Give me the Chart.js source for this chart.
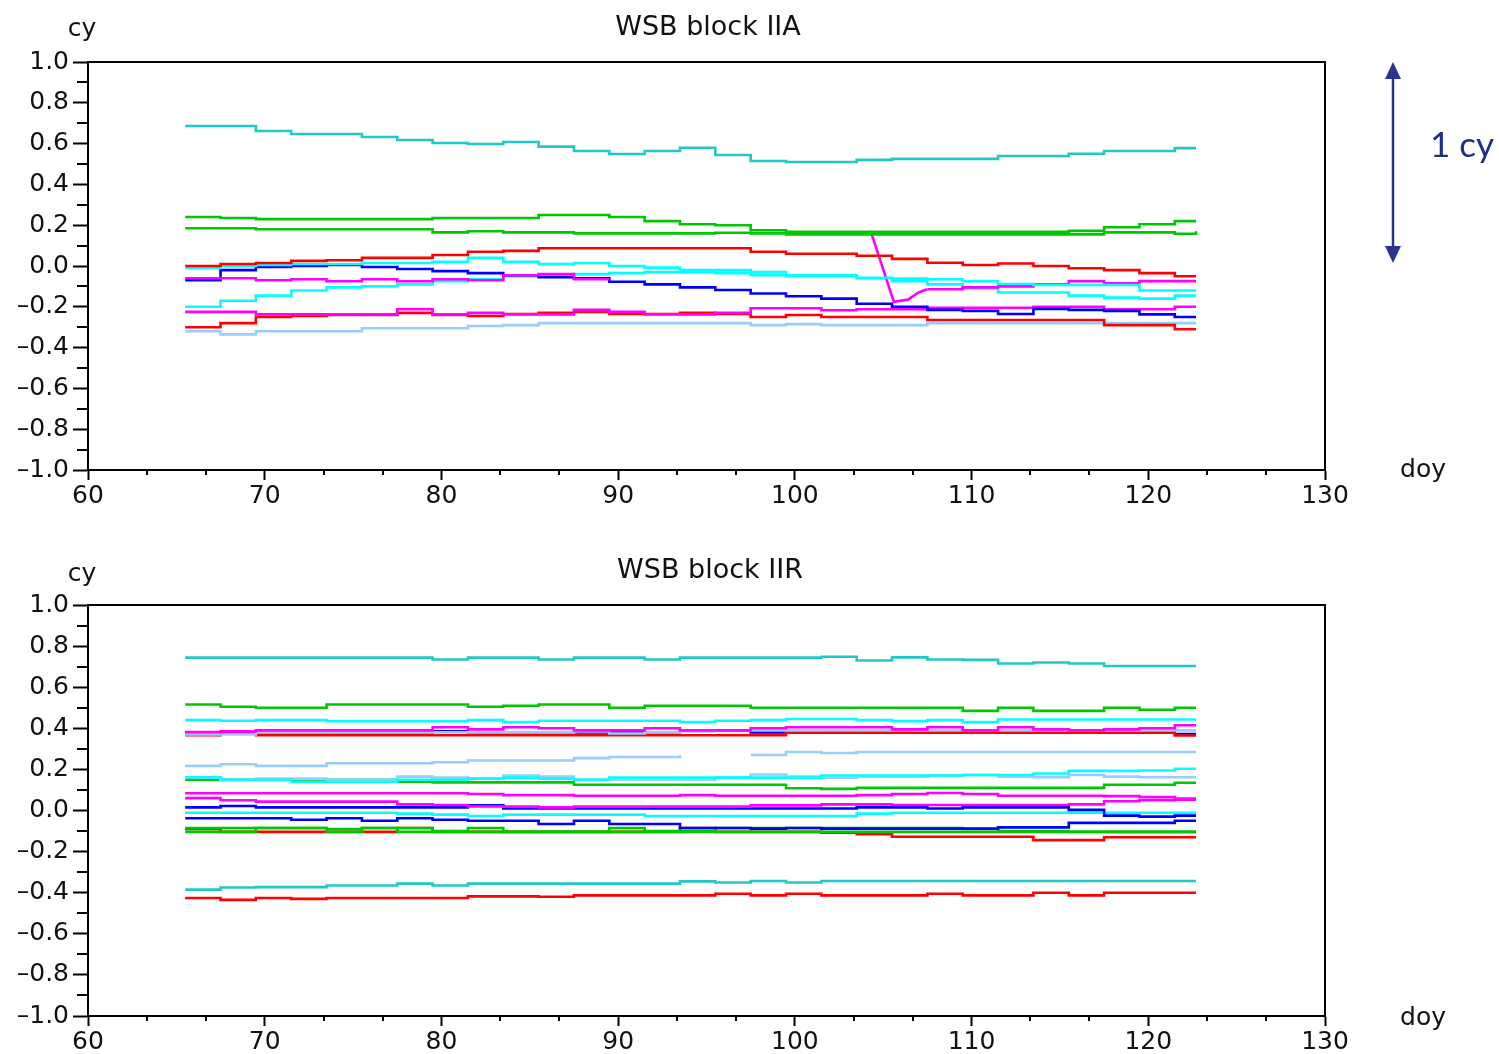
<!DOCTYPE html>
<html><head><meta charset="utf-8">
<script src="https://cdn.jsdelivr.net/npm/chart.js@4.4.0/dist/chart.umd.min.js"></script>
<style>
html,body{margin:0;padding:0;background:#fff;}
#wrap{position:relative;width:1499px;height:1054px;overflow:hidden;}
canvas{position:absolute;left:0;}
</style></head><body>
<div id="wrap">
<canvas id="cTop" width="1499" height="527" style="top:0"></canvas>
<canvas id="cBot" width="1499" height="527" style="top:527px"></canvas>
</div>
<script>
// ---- shared axis data ----
const days = [65.5,67.5,69.5,71.5,73.5,75.5,77.5,79.5,81.5,83.5,85.5,87.5,89.5,91.5,93.5,95.5,97.5,99.5,101.5,103.5,105.5,107.5,109.5,111.5,113.5,115.5,117.5,119.5,121.5,122.7];
const xTicks = [60,70,80,90,100,110,120,130];
const xMinor = [63.33,66.67,73.33,76.67,83.33,86.67,93.33,96.67,103.33,106.67,113.33,116.67,123.33,126.67];
const yTicks = [-1,-0.8,-0.6,-0.4,-0.2,0,0.2,0.4,0.6,0.8,1];
const yMinor = [-0.9,-0.7,-0.5,-0.3,-0.1,0.1,0.3,0.5,0.7,0.9];

// ---- WSB block IIA ----
const iiaT1 = [0.686,0.686,0.662,0.647,0.647,0.632,0.618,0.603,0.598,0.608,0.585,0.564,0.549,0.564,0.58,0.544,0.515,0.51,0.51,0.52,0.525,0.525,0.525,0.539,0.539,0.55,0.564,0.564,0.578,0.578];
const iiaG1 = [0.24,0.235,0.23,0.23,0.23,0.23,0.23,0.235,0.235,0.235,0.25,0.25,0.24,0.22,0.205,0.2,0.175,0.168,0.168,0.168,0.168,0.168,0.168,0.168,0.168,0.172,0.19,0.205,0.22,0.22];
const iiaG2 = [0.185,0.185,0.18,0.18,0.18,0.18,0.18,0.165,0.17,0.165,0.165,0.16,0.16,0.16,0.16,0.163,0.16,0.155,0.155,0.155,0.155,0.155,0.155,0.155,0.155,0.155,0.165,0.165,0.158,0.17];
const iiaR1 = [0.0,0.01,0.015,0.025,0.028,0.04,0.04,0.054,0.07,0.074,0.087,0.087,0.087,0.087,0.087,0.087,0.07,0.06,0.06,0.05,0.035,0.016,0.005,0.012,0.0,-0.011,-0.02,-0.035,-0.05,-0.05];
const iiaC1 = [-0.01,0.0,0.005,0.01,0.01,0.015,0.015,0.02,0.04,0.02,0.01,0.015,0.0,-0.008,-0.02,-0.02,-0.03,-0.045,-0.045,-0.058,-0.062,-0.065,-0.075,-0.088,-0.093,-0.093,-0.093,-0.12,-0.12,-0.12];
const iiaC2 = [-0.2,-0.17,-0.145,-0.12,-0.105,-0.1,-0.09,-0.075,-0.065,-0.05,-0.045,-0.04,-0.035,-0.03,-0.03,-0.035,-0.045,-0.05,-0.05,-0.06,-0.074,-0.09,-0.11,-0.13,-0.13,-0.145,-0.155,-0.16,-0.145,-0.145];
const iiaB1 = [-0.07,-0.02,-0.005,0.0,0.005,-0.005,-0.015,-0.025,-0.035,-0.045,-0.055,-0.06,-0.077,-0.09,-0.105,-0.118,-0.135,-0.148,-0.16,-0.185,-0.2,-0.215,-0.22,-0.235,-0.21,-0.215,-0.22,-0.237,-0.25,-0.25];
const iiaM1 = [-0.06,-0.06,-0.07,-0.065,-0.075,-0.065,-0.075,-0.065,-0.07,-0.045,-0.04,-0.065,-0.065,null,null,null,null,null,null,null,null,-0.114,-0.105,-0.1,-0.09,-0.074,-0.085,-0.074,-0.074,-0.074];
const iiaSpikeDays = [104.35,105.6,106.4,107.0,107.5];
const iiaSpikeVals = [0.155,-0.175,-0.165,-0.13,-0.114];
const iiaM2 = [-0.225,-0.225,-0.237,-0.237,-0.237,-0.237,-0.212,-0.237,-0.23,-0.237,-0.237,-0.215,-0.225,-0.237,-0.237,-0.23,-0.207,-0.207,-0.217,-0.212,-0.212,-0.205,-0.205,-0.205,-0.2,-0.2,-0.212,-0.212,-0.2,-0.2];
const iiaR2 = [-0.3,-0.28,-0.25,-0.245,-0.24,-0.24,-0.23,-0.24,-0.245,-0.235,-0.23,-0.225,-0.235,-0.235,-0.23,-0.235,-0.25,-0.24,-0.25,-0.25,-0.25,-0.265,-0.265,-0.265,-0.265,-0.265,-0.29,-0.29,-0.31,-0.31];
const iiaLB = [-0.32,-0.335,-0.32,-0.32,-0.32,-0.305,-0.305,-0.305,-0.294,-0.29,-0.28,-0.28,-0.28,-0.28,-0.28,-0.28,-0.29,-0.285,-0.29,-0.29,-0.29,-0.28,-0.28,-0.28,-0.28,-0.28,-0.28,-0.28,-0.28,-0.28];

// ---- WSB block IIR ----
const iirD1 = [0.744,0.744,0.744,0.744,0.744,0.744,0.744,0.735,0.744,0.744,0.735,0.744,0.744,0.735,0.744,0.744,0.744,0.744,0.748,0.73,0.745,0.735,0.733,0.715,0.72,0.715,0.703,0.703,0.703,0.703];
const iirE1 = [0.516,0.505,0.5,0.5,0.516,0.516,0.516,0.516,0.505,0.51,0.516,0.516,0.5,0.51,0.51,0.51,0.5,0.5,0.5,0.5,0.5,0.5,0.485,0.5,0.485,0.485,0.5,0.49,0.5,0.5];
const iirF1 = [0.44,0.437,0.44,0.44,0.434,0.434,0.434,0.434,0.44,0.43,0.437,0.437,0.437,0.437,0.43,0.437,0.44,0.445,0.445,0.44,0.435,0.44,0.43,0.443,0.443,0.443,0.443,0.443,0.443,0.443];
const iirH1 = [0.382,0.385,0.39,0.39,0.39,0.39,0.39,0.405,0.395,0.405,0.4,0.39,0.39,0.4,0.39,0.39,0.4,0.405,0.405,0.405,0.395,0.405,0.39,0.405,0.395,0.39,0.395,0.4,0.415,0.415];
const iirH2 = [0.37,0.37,0.38,0.38,0.38,0.38,0.38,0.38,0.38,0.38,0.38,0.385,0.375,0.38,0.385,0.39,0.39,0.39,0.39,0.39,0.39,0.39,0.39,0.39,0.39,0.39,0.39,0.39,0.39,0.39];
const iirH3 = [0.366,0.38,0.366,0.366,0.366,0.366,0.366,0.366,0.366,0.366,0.366,0.366,0.366,0.366,0.366,0.366,0.366,0.378,0.378,0.378,0.378,0.378,0.378,0.378,0.378,0.378,0.378,0.378,0.365,0.365];
const iirH4 = [0.38,0.38,0.38,0.38,0.38,0.38,0.38,0.385,0.38,0.38,0.38,0.38,0.38,0.38,0.39,0.39,0.38,0.39,0.38,0.38,0.38,0.38,0.38,0.385,0.385,0.38,0.385,0.38,0.372,0.372];
const iirL2 = [0.217,0.225,0.217,0.217,0.23,0.23,0.23,0.235,0.243,0.243,0.243,0.255,0.26,0.26,0.27,null,0.27,0.285,0.28,0.285,0.285,0.285,0.285,0.285,0.285,0.285,0.285,0.285,0.285,0.285];
const iirF2 = [0.162,0.15,0.15,0.14,0.14,0.14,0.15,0.15,0.155,0.16,0.155,0.15,0.16,0.16,0.16,0.16,0.16,0.16,0.17,0.17,0.17,0.17,0.173,0.173,0.18,0.193,0.193,0.195,0.203,0.203];
const iirL3 = [0.16,0.15,0.155,0.155,0.15,0.15,0.165,0.16,0.155,0.17,0.165,0.15,0.15,0.15,0.15,0.16,0.175,0.165,0.16,0.165,0.165,0.17,0.173,0.165,0.162,0.173,0.165,0.162,0.162,0.162];
const iirE2 = [0.15,0.15,0.15,0.15,0.149,0.149,0.14,0.137,0.137,0.137,0.137,0.125,0.125,0.125,0.125,0.125,0.125,0.108,0.105,0.11,0.11,0.11,0.11,0.11,0.11,0.11,0.125,0.125,0.135,0.135];
const iirN1 = [0.084,0.084,0.084,0.084,0.084,0.084,0.084,0.084,0.08,0.075,0.075,0.072,0.072,0.072,0.075,0.072,0.072,0.072,0.072,0.075,0.08,0.085,0.08,0.072,0.072,0.072,0.07,0.065,0.058,0.058];
const iirN2 = [0.06,0.05,0.043,0.043,0.043,0.043,0.03,0.027,0.02,0.019,0.015,0.019,0.019,0.019,0.019,0.019,0.025,0.025,0.03,0.03,0.027,0.027,0.027,0.027,0.027,0.03,0.045,0.05,0.052,0.052];
const iirP1 = [0.015,0.022,0.015,0.015,0.015,0.015,0.015,0.015,0.025,0.01,0.01,0.01,0.01,0.01,0.01,0.01,0.01,0.01,0.01,0.015,0.015,0.01,0.015,0.015,0.015,0.003,-0.025,-0.03,-0.025,-0.025];
const iirP2 = [-0.038,-0.038,-0.038,-0.045,-0.038,-0.05,-0.038,-0.045,-0.05,-0.05,-0.066,-0.05,-0.066,-0.066,-0.085,-0.085,-0.088,-0.085,-0.088,-0.088,-0.088,-0.088,-0.088,-0.082,-0.082,-0.06,-0.06,-0.06,-0.05,-0.05];
const iirQ1 = [-0.011,-0.011,-0.011,-0.011,-0.011,-0.011,-0.015,-0.02,-0.027,-0.02,-0.02,-0.02,-0.02,-0.027,-0.027,-0.027,-0.027,-0.027,-0.027,-0.015,-0.011,-0.011,-0.011,-0.011,-0.011,-0.011,-0.011,-0.011,-0.011,-0.011];
const iirS1 = [-0.085,-0.085,-0.085,-0.085,-0.09,-0.085,-0.085,-0.1,-0.085,-0.104,-0.104,-0.104,-0.085,-0.1,-0.1,-0.085,-0.085,-0.085,-0.085,-0.085,-0.085,-0.085,-0.09,-0.1,-0.1,-0.104,-0.104,-0.104,-0.104,-0.104];
const iirS3 = [-0.104,-0.104,-0.085,-0.085,-0.104,-0.085,-0.104,-0.104,-0.104,-0.104,-0.104,-0.104,-0.104,-0.104,-0.104,-0.104,-0.104,-0.104,-0.104,-0.104,-0.104,-0.104,-0.104,-0.104,-0.104,-0.104,-0.104,-0.104,-0.104,-0.104];
const iirS2 = [-0.09,-0.104,-0.104,-0.104,-0.104,-0.104,-0.085,-0.104,-0.104,-0.104,-0.104,-0.104,-0.104,-0.104,-0.085,-0.104,-0.104,-0.104,-0.108,-0.115,-0.128,-0.128,-0.128,-0.128,-0.144,-0.144,-0.13,-0.13,-0.13,-0.13];
const iirD2 = [-0.385,-0.375,-0.373,-0.373,-0.365,-0.365,-0.356,-0.365,-0.356,-0.356,-0.356,-0.356,-0.356,-0.356,-0.345,-0.35,-0.343,-0.35,-0.343,-0.343,-0.343,-0.343,-0.343,-0.343,-0.343,-0.343,-0.343,-0.343,-0.343,-0.343];
const iirR3 = [-0.426,-0.435,-0.426,-0.43,-0.426,-0.426,-0.426,-0.426,-0.418,-0.418,-0.42,-0.413,-0.413,-0.413,-0.413,-0.405,-0.413,-0.405,-0.413,-0.413,-0.413,-0.405,-0.413,-0.413,-0.4,-0.413,-0.4,-0.4,-0.4,-0.4];

// ---- colours ----
const DCYAN='#22C8C8', CYAN='#00FFFF', GREEN='#00C800', RED='#FF0000', BLUE='#0000FF', MAG='#FF00FF', LBLUE='#99CCFF';

function ds(vals, color, xs, stepped) {
  xs = xs || days;
  return {
    data: xs.map((d,i)=>({x:d, y:vals[i]})),
    borderColor: color, borderWidth: 2.6, pointRadius: 0,
    stepped: stepped === undefined ? true : stepped,
    fill: false, spanGaps: false, tension: 0
  };
}

const FONT = '"DejaVu Sans", sans-serif';
function fmtY(v){
  if (Math.abs(v) < 1e-9) return '0.0';
  return (v < 0 ? '\u2013' : '') + Math.abs(v).toFixed(1);
}

function decor(cfg) {
  return {
    id: 'decor',
    afterDraw(chart) {
      const {ctx, chartArea: a, scales: {x, y}} = chart;
      ctx.save();
      ctx.strokeStyle = '#000'; ctx.lineWidth = 2;
      ctx.strokeRect(a.left, a.top, a.right - a.left, a.bottom - a.top);
      ctx.beginPath();
      yMinor.forEach(v => { const p = Math.round(y.getPixelForValue(v)); ctx.moveTo(a.left - 11, p); ctx.lineTo(a.left, p); });
      xMinor.forEach(v => { const p = Math.round(x.getPixelForValue(v)); ctx.moveTo(p, a.bottom); ctx.lineTo(p, a.bottom + 5); });
      ctx.stroke();
      ctx.fillStyle = '#111';
      ctx.textBaseline = 'alphabetic';
      ctx.textAlign = 'center';
      ctx.font = '27px ' + FONT;
      ctx.fillText(cfg.title, cfg.titleX, cfg.titleBase);
      ctx.font = '25px ' + FONT;
      ctx.fillText('cy', 82, cfg.cyBase);
      ctx.fillText('doy', 1423, cfg.doyBase);
      if (cfg.arrow) {
        const ax = 1393;
        const y1 = y.getPixelForValue(1), y0 = y.getPixelForValue(0);
        const col = '#2B3390';
        ctx.strokeStyle = col; ctx.fillStyle = col; ctx.lineWidth = 2.5;
        ctx.beginPath(); ctx.moveTo(ax, y1 + 12); ctx.lineTo(ax, y0 - 12); ctx.stroke();
        ctx.beginPath(); ctx.moveTo(ax, y1); ctx.lineTo(ax - 8, y1 + 17); ctx.lineTo(ax + 8, y1 + 17); ctx.closePath(); ctx.fill();
        ctx.beginPath(); ctx.moveTo(ax, y0 - 3); ctx.lineTo(ax - 8, y0 - 20); ctx.lineTo(ax + 8, y0 - 20); ctx.closePath(); ctx.fill();
        ctx.font = '35px Lato, "Open Sans", sans-serif';
        ctx.textAlign = 'left';
        ctx.fillStyle = '#1F2E86';
        ctx.fillText('1 cy', 1430, 157);
      }
      ctx.restore();
    }
  };
}

function makeChart(id, datasets, cfg) {
  return new Chart(document.getElementById(id), {
    type: 'line',
    data: { datasets },
    options: {
      responsive: false, animation: false, events: [],
      devicePixelRatio: 1,
      layout: { padding: { left: 0, right: 174, top: cfg.top, bottom: 0 } },
      plugins: { legend: { display: false }, tooltip: { enabled: false }, title: { display: false } },
      scales: {
        x: {
          type: 'linear', min: 60, max: 130,
          afterBuildTicks: s => { s.ticks = xTicks.map(v => ({value: v})); },
          afterFit: s => { s.height = 527 - cfg.bottom; },
          ticks: { color: '#111', font: { family: FONT, size: 25 }, padding: 1, maxRotation: 0, autoSkip: false },
          grid: { drawOnChartArea: false, drawTicks: true, tickLength: 10, tickWidth: 2, tickColor: '#000', color: '#000' },
          border: { display: true, color: '#000', width: 2 }
        },
        y: {
          type: 'linear', min: -1, max: 1,
          afterBuildTicks: s => { s.ticks = yTicks.map(v => ({value: v})); },
          afterFit: s => { s.width = 88; },
          ticks: { color: '#111', font: { family: FONT, size: 25 }, padding: 4, callback: v => fmtY(v), autoSkip: false },
          grid: { drawOnChartArea: false, drawTicks: true, tickLength: 15, tickWidth: 2, tickColor: '#000', color: '#000' },
          border: { display: true, color: '#000', width: 2 }
        }
      }
    },
    plugins: [decor(cfg)]
  });
}

makeChart('cTop', [
  ds(iiaT1, DCYAN), ds(iiaG1, GREEN), ds(iiaG2, GREEN), ds(iiaR1, RED),
  ds(iiaC1, CYAN), ds(iiaM1, MAG), ds(iiaSpikeVals, MAG, iiaSpikeDays, false),
  ds(iiaB1, BLUE), ds(iiaC2, CYAN), ds(iiaM2, MAG), ds(iiaR2, RED), ds(iiaLB, LBLUE)
], { top: 62, bottom: 470, title: 'WSB block IIA', titleX: 708, titleBase: 35, cyBase: 36, doyBase: 477, arrow: true });

makeChart('cBot', [
  ds(iirD1, DCYAN), ds(iirE1, GREEN), ds(iirF1, CYAN), ds(iirH1, MAG), ds(iirH2, LBLUE),
  ds(iirH3, RED), ds(iirH4, BLUE), ds(iirL2, LBLUE), ds(iirF2, CYAN), ds(iirL3, LBLUE),
  ds(iirE2, GREEN), ds(iirN1, MAG), ds(iirN2, MAG), ds(iirP1, BLUE), ds(iirP2, BLUE),
  ds(iirQ1, CYAN), ds(iirS1, GREEN), ds(iirS3, GREEN), ds(iirS2, RED), ds(iirD2, DCYAN), ds(iirR3, RED)
], { top: 78, bottom: 489, title: 'WSB block IIR', titleX: 710, titleBase: 51, cyBase: 54, doyBase: 498, arrow: false });
</script>
</body></html>
